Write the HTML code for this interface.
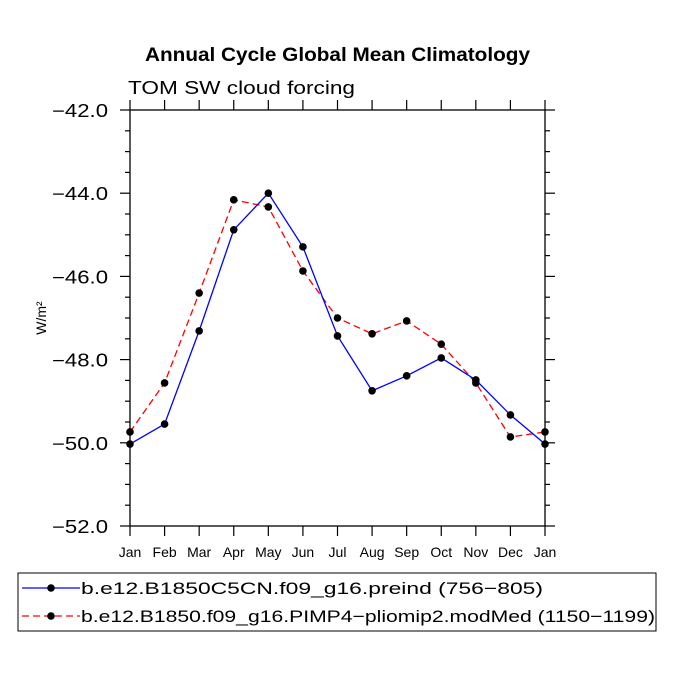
<!DOCTYPE html>
<html><head><meta charset="utf-8"><style>
body{margin:0;background:#fff;}
svg text{font-family:"Liberation Sans",sans-serif;}
</style></head><body>
<svg id="chart" width="675" height="675" xmlns="http://www.w3.org/2000/svg">
<text x="145" y="61" font-size="19" font-weight="bold" textLength="385" lengthAdjust="spacingAndGlyphs">Annual Cycle Global Mean Climatology</text>
<text x="128" y="94" font-size="18" textLength="227" lengthAdjust="spacingAndGlyphs">TOM SW cloud forcing</text>
<text transform="translate(46,318) rotate(-90)" text-anchor="middle" font-size="14">W/m²</text>
<g id="axes"></g>
<g id="series"></g>
<g>
<rect x="18" y="573" width="638" height="58" fill="none" stroke="#000" stroke-width="1"/>
<line x1="22" y1="588" x2="80" y2="588" stroke="#0000ff" stroke-width="1.3"/>
<circle cx="51" cy="588" r="3.8" fill="#000"/>
<text x="81" y="594" font-size="17" textLength="462" lengthAdjust="spacingAndGlyphs">b.e12.B1850C5CN.f09_g16.preind (756−805)</text>
<line x1="22" y1="616" x2="80" y2="616" stroke="#ff0000" stroke-width="1.3" stroke-dasharray="7,4"/>
<circle cx="51" cy="616" r="3.8" fill="#000"/>
<text x="81" y="622" font-size="17" textLength="574" lengthAdjust="spacingAndGlyphs">b.e12.B1850.f09_g16.PIMP4−pliomip2.modMed (1150−1199)</text>
</g>
</svg>
<script>
const months=["Jan","Feb","Mar","Apr","May","Jun","Jul","Aug","Sep","Oct","Nov","Dec","Jan"];
const preind=[-50.03,-49.55,-47.31,-44.88,-44.0,-45.29,-47.43,-48.75,-48.39,-47.96,-48.49,-49.33,-50.03];
const pliomip=[-49.74,-48.56,-46.40,-44.16,-44.33,-45.87,-47.0,-47.38,-47.07,-47.63,-48.56,-49.86,-49.74];
const yTicks=[-42,-44,-46,-48,-50,-52];
const yTickLabels=["−42.0","−44.0","−46.0","−48.0","−50.0","−52.0"];
const L=130,R=545,T=110,B=526,yMin=-52,yMax=-42;
const NS="http://www.w3.org/2000/svg";
function xS(i){return L+(R-L)*i/(months.length-1);}
function yS(v){return B-(v-yMin)/(yMax-yMin)*(B-T);}
function mk(tag,attrs,parent){const e=document.createElementNS(NS,tag);for(const k in attrs)e.setAttribute(k,attrs[k]);parent.appendChild(e);return e;}
const ax=document.getElementById('axes');
const frame=mk('rect',{x:L,y:T,width:R-L,height:B-T,fill:'none',stroke:'#000','stroke-width':1.3},ax);


for(let v=yMin;v<=yMax+1e-9;v+=0.5){
  const maj=Math.abs(v-Math.round(v/2)*2)<1e-9;const len=maj?10:5;const y=yS(v);
  mk('line',{x1:L-len,y1:y,x2:L,y2:y,stroke:'#000','stroke-width':1.2},ax);
  mk('line',{x1:R,y1:y,x2:R+len,y2:y,stroke:'#000','stroke-width':1.2},ax);
}
yTicks.forEach((v,i)=>{
  const t=mk('text',{x:52,y:yS(v)+7,'font-size':18,textLength:56,lengthAdjust:'spacingAndGlyphs'},ax);
  t.textContent=yTickLabels[i];
  
  
});
months.forEach((m,i)=>{
  const x=xS(i);
  mk('line',{x1:x,y1:B,x2:x,y2:B+10,stroke:'#000','stroke-width':1.2},ax);
  mk('line',{x1:x,y1:T-10,x2:x,y2:T,stroke:'#000','stroke-width':1.2},ax);
  const t=mk('text',{x:x,y:B+31,'text-anchor':'middle','font-size':14},ax);
  t.textContent=m;
  
  
});
const sg=document.getElementById('series');
function draw(vals,color,dash,name){
  const pl=mk('polyline',{points:vals.map((v,i)=>xS(i)+','+yS(v)).join(' '),fill:'none',stroke:color,'stroke-width':1.3,'stroke-dasharray':dash},sg);
  
  
  vals.forEach((v,i)=>{
    const c=mk('circle',{cx:xS(i),cy:yS(v),r:3.8,fill:'#000'},sg);
    
    
  });
}
draw(pliomip,'#ff0000','7,4','pliomip');
draw(preind,'#0000ff','none','preind');
</script>
</body></html>
